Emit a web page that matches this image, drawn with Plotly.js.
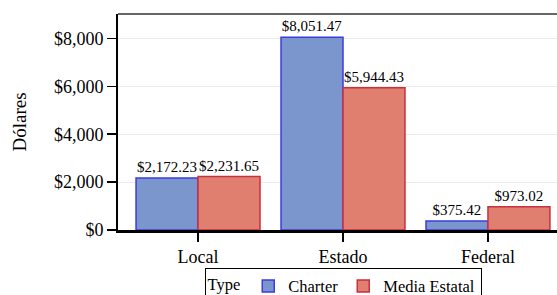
<!DOCTYPE html>
<html><head><meta charset="utf-8">
<script src="https://cdn.plot.ly/plotly-3.0.1.min.js"></script>
<style>html,body{margin:0;padding:0;overflow:hidden;background:#fff}</style>
</head><body>
<div id="chart" style="width:600px;height:330px"></div>
<script>
const categories = ["Local", "Estado", "Federal"];
const charterValues = [2172.23, 8051.47, 375.42];
const mediaValues = [2231.65, 5944.43, 973.02];
const seriesNames = ["Charter", "Media Estatal"];
const yTickVals = [0, 2000, 4000, 6000, 8000];

const font = '"Liberation Serif", "Times New Roman", serif';
const traces = [
  {type:"bar", name:seriesNames[0], x:categories, y:charterValues,
   marker:{color:"#7b96cc", line:{color:"#3b3bdf", width:1.5}},
   texttemplate:"%{y:$,.2f}", textposition:"outside", cliponaxis:false,
   textfont:{family:font, size:15, color:"#000"}, hoverinfo:"none"},
  {type:"bar", name:seriesNames[1], x:categories, y:mediaValues,
   marker:{color:"#e07f6f", line:{color:"#c8313f", width:1.5}},
   texttemplate:"%{y:$,.2f}", textposition:"outside", cliponaxis:false,
   textfont:{family:font, size:15, color:"#000"}, hoverinfo:"none"}
];
const layout = {
  width:600, height:330,
  margin:{l:118, r:32, t:14, b:100},
  paper_bgcolor:"#fff", plot_bgcolor:"#fff",
  font:{family:font, size:18, color:"#000"},
  barmode:"group", bargap:0.145, bargroupgap:0,
  xaxis:{type:"category", range:[-0.552, 2.552], showgrid:false,
    showline:true, linecolor:"#000", linewidth:2.5,
    ticks:"outside", ticklen:9, tickwidth:1.5, tickcolor:"#000",
    tickfont:{family:font, size:18}},
  yaxis:{range:[0, 9020], tickvals:yTickVals, tickformat:"$,.0f",
    showgrid:true, gridcolor:"#ebebeb", gridwidth:1, zeroline:false,
    showline:true, linecolor:"#000", linewidth:2,
    ticks:"outside", ticklen:9, tickwidth:1.5, tickcolor:"#000",
    tickfont:{family:font, size:18},
    title:{text:"Dólares", font:{family:font, size:19}, standoff:22}},
  shapes:[{type:"line", xref:"paper", yref:"paper", x0:0, x1:1, y0:1, y1:1,
    line:{color:"#333", width:1.5}}],
  showlegend:true,
  legend:{orientation:"h", x:0.5, xanchor:"center", y:-0.175, yanchor:"top",
    bordercolor:"#000", borderwidth:1, bgcolor:"#fff",
    title:{text:"Type", side:"left", font:{family:font, size:16.5}},
    font:{family:font, size:16.5}, itemwidth:30, tracegroupgap:0}
};
Plotly.newPlot("chart", traces, layout, {displayModeBar:false, staticPlot:true});
</script>
</body></html>
